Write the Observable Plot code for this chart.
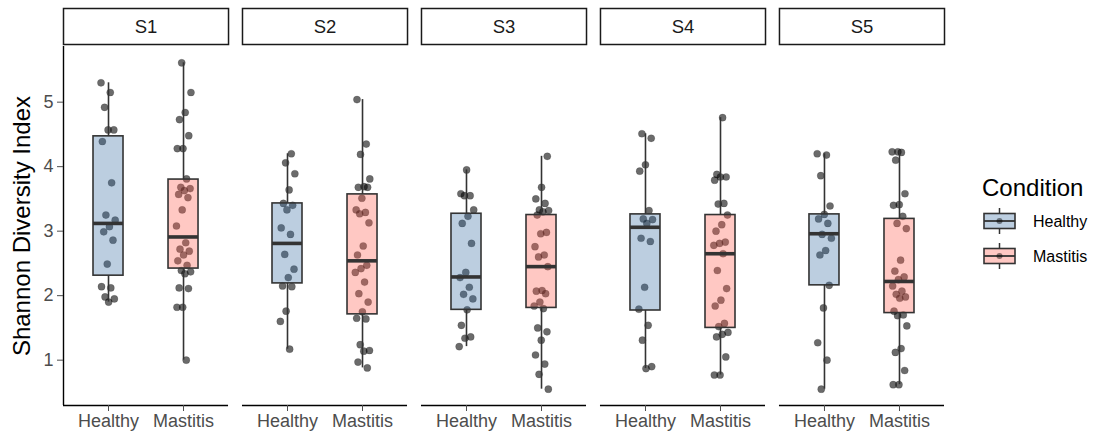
<!DOCTYPE html>
<html>
<head>
<meta charset="utf-8">
<script src="https://cdn.jsdelivr.net/npm/d3@7"></script>
<script src="https://cdn.jsdelivr.net/npm/@observablehq/plot@0.6"></script>
<style>
  body { margin: 0; background: white; }
  #wrap { position: relative; width: 1099px; height: 438px; font-family: "Liberation Sans", Arial, sans-serif; }
  #legend { position: absolute; left: 970px; top: 165px; }
</style>
</head>
<body>
<div id="wrap"><div id="chart"></div><div id="legend"></div></div>
<script>
// ---- data ----
const sites = ["S1", "S2", "S3", "S4", "S5"];
const conditions = ["Healthy", "Mastitis"];
const fillColors = ["#4073a6", "#ff6254"];
const yLabel = "Shannon Diversity Index";
const legendTitle = "Condition";
const yTicks = [1, 2, 3, 4, 5];

const S1_Healthy = [5.30, 5.15, 4.92, 4.57, 4.57, 4.39, 3.75, 3.25, 3.17, 3.07, 2.99, 2.86, 2.49, 2.14, 2.12, 1.98, 1.95, 1.90];
const S1_Mastitis = [5.61, 5.15, 4.84, 4.73, 4.48, 4.28, 4.28, 3.81, 3.68, 3.66, 3.63, 3.57, 3.52, 3.33, 3.08, 2.82, 2.72, 2.69, 2.63, 2.54, 2.47, 2.39, 2.37, 2.34, 2.12, 2.11, 1.82, 1.82, 1.00];
const S2_Healthy = [4.20, 4.06, 3.89, 3.64, 3.43, 3.40, 3.33, 3.05, 2.95, 2.64, 2.41, 2.28, 2.15, 2.14, 1.76, 1.60, 1.17];
const S2_Mastitis = [5.04, 4.35, 4.19, 3.81, 3.69, 3.68, 3.68, 3.51, 3.33, 3.29, 3.27, 3.13, 2.77, 2.63, 2.47, 2.42, 2.36, 2.21, 2.03, 1.90, 1.75, 1.65, 1.64, 1.24, 1.15, 1.14, 0.97, 0.88];
const S3_Healthy = [3.95, 3.58, 3.55, 3.55, 3.33, 3.23, 3.12, 2.81, 2.36, 2.28, 2.13, 2.02, 1.95, 1.78, 1.54, 1.36, 1.34, 1.21];
const S3_Mastitis = [4.16, 3.68, 3.50, 3.43, 3.33, 3.32, 3.30, 3.25, 2.98, 2.96, 2.76, 2.63, 2.60, 2.45, 2.08, 2.07, 2.03, 1.90, 1.84, 1.80, 1.50, 1.44, 1.31, 1.08, 0.94, 0.78, 0.55];
const S4_Healthy = [4.51, 4.44, 4.03, 3.93, 3.32, 3.19, 3.18, 3.12, 2.89, 2.84, 2.13, 1.79, 1.54, 1.31, 0.90, 0.87];
const S4_Mastitis = [4.76, 3.88, 3.84, 3.84, 3.79, 3.43, 3.42, 3.25, 3.10, 3.00, 2.83, 2.81, 2.78, 2.65, 2.39, 2.11, 1.93, 1.84, 1.57, 1.52, 1.43, 1.40, 1.36, 1.05, 0.77, 0.77];
const S5_Healthy = [4.20, 4.18, 3.86, 3.39, 3.26, 3.19, 3.12, 2.95, 2.89, 2.70, 2.63, 2.16, 1.81, 1.27, 1.00, 0.55];
const S5_Mastitis = [4.23, 4.23, 4.22, 4.10, 3.58, 3.41, 3.40, 3.23, 3.12, 3.04, 2.55, 2.38, 2.29, 2.25, 2.15, 2.07, 2.02, 1.98, 1.96, 1.76, 1.70, 1.69, 1.53, 1.18, 1.12, 0.84, 0.62, 0.62];

// box statistics, order: S1 Healthy, S1 Mastitis, S2 Healthy, ...
const boxQ1     = [2.31, 2.42, 2.19, 1.71, 1.78, 1.81, 1.77, 1.50, 2.16, 1.73];
const boxMedian = [3.12, 2.91, 2.81, 2.54, 2.29, 2.45, 3.06, 2.65, 2.96, 2.22];
const boxQ3     = [4.47, 3.80, 3.43, 3.57, 3.27, 3.25, 3.26, 3.25, 3.26, 3.19];

// ---- build tables ----
const groupValues = [S1_Healthy, S1_Mastitis, S2_Healthy, S2_Mastitis, S3_Healthy, S3_Mastitis, S4_Healthy, S4_Mastitis, S5_Healthy, S5_Mastitis];
const points = [];
const boxes = [];
sites.forEach((s, si) => conditions.forEach((c, ci) => {
  const k = si * 2 + ci;
  const vals = groupValues[k];
  vals.forEach((v, j) => {
    // deterministic jitter (visual spread only)
    const jit = (((j * 0.6180339887 + k * 0.377) % 1) - 0.5) * 0.2;
    points.push({site: s, cond: c, xj: ci + 1 + jit, y: v});
  });
  boxes.push({site: s, cond: c, pos: ci + 1, q1: boxQ1[k], med: boxMedian[k], q3: boxQ3[k], lo: d3.min(vals), hi: d3.max(vals)});
}));

const allVals = groupValues.flat();
const yMin = d3.min(allVals), yMax = d3.max(allVals);
const yPad = (yMax - yMin) * 0.05;
const yDomain = [yMin - yPad, yMax + yPad];
const xDomain = [0.4, 2.6];

const H = 438, mTop = 46, mBottom = 33;
const panelH = H - mTop - mBottom;

const chart = Plot.plot({
  width: 1099,
  height: H,
  marginLeft: 63,
  marginRight: 155,
  marginTop: mTop,
  marginBottom: mBottom,
  style: {fontFamily: '"Liberation Sans", Arial, sans-serif', background: "white", overflow: "visible"},
  fx: {domain: sites, paddingInner: 0.078, paddingOuter: 0, round: false, axis: null, label: null},
  x: {domain: xDomain, label: null},
  y: {domain: yDomain, label: null},
  color: {domain: conditions, range: fillColors},
  marks: [
    // strips
    Plot.frame({fill: "white", stroke: "#1a1a1a", strokeWidth: 1.5, insetTop: -38, insetBottom: panelH + 2}),
    Plot.text(sites, {fx: d => d, text: d => d, frameAnchor: "top", lineAnchor: "middle", dy: -19, fontSize: 18.5, fill: "#1a1a1a"}),
    // jittered points
    Plot.dot(points, {fx: "site", x: "xj", y: "y", r: 3.6, fill: "black", fillOpacity: 0.58, stroke: "black", strokeOpacity: 0.25, strokeWidth: 0.6}),
    // whiskers
    Plot.ruleX(boxes, {fx: "site", x: "pos", y1: "lo", y2: "q1", stroke: "#333", strokeWidth: 1.6}),
    Plot.ruleX(boxes, {fx: "site", x: "pos", y1: "q3", y2: "hi", stroke: "#333", strokeWidth: 1.6}),
    // boxes
    Plot.rect(boxes, {fx: "site", x1: d => d.pos - 0.2, x2: d => d.pos + 0.2, y1: "q1", y2: "q3", fill: "cond", fillOpacity: 0.35, stroke: "#333", strokeWidth: 1.6}),
    // medians
    Plot.ruleY(boxes, {fx: "site", x1: d => d.pos - 0.2, x2: d => d.pos + 0.2, y: "med", stroke: "#333", strokeWidth: 3.6}),
    // axis lines
    Plot.ruleY([yDomain[0]], {y: d => d, stroke: "black", strokeWidth: 1.4}),
    Plot.ruleX([sites[0]], {fx: d => d, x: () => xDomain[0], stroke: "black", strokeWidth: 1.4}),
    // axes
    Plot.axisY({ticks: yTicks, tickFormat: d => String(d), tickSize: 6, tickPadding: 4, fontSize: 18, color: "#4d4d4d", label: null}),
    Plot.axisX({ticks: [1, 2], tickFormat: d => conditions[d - 1], tickSize: 6, tickPadding: 3, fontSize: 18, color: "#4d4d4d", label: null}),
    // y title
    Plot.text([sites[0]], {fx: d => d, text: () => yLabel, frameAnchor: "left", textAnchor: "middle", lineAnchor: "middle", rotate: -90, dx: -41, fontSize: 24, fill: "black"})
  ]
});
document.getElementById("chart").appendChild(chart);

// ---- legend ----
const ns = "http://www.w3.org/2000/svg";
const lg = document.createElementNS(ns, "svg");
lg.setAttribute("width", 129);
lg.setAttribute("height", 110);
lg.style.fontFamily = '"Liberation Sans", Arial, sans-serif';
function el(tag, attrs, text) {
  const e = document.createElementNS(ns, tag);
  for (const k in attrs) e.setAttribute(k, attrs[k]);
  if (text != null) e.textContent = text;
  lg.appendChild(e);
  return e;
}
el("text", {x: 12, y: 31, "font-size": 24, fill: "black"}, legendTitle);
conditions.forEach((c, i) => {
  const cy = 56 + i * 35;
  const x0 = 14, w = 31, h = 15, cx = x0 + w / 2;
  el("line", {x1: cx, x2: cx, y1: cy - 13, y2: cy + 13, stroke: "#333", "stroke-width": 1.5});
  el("rect", {x: x0, y: cy - h / 2, width: w, height: h, fill: "white", stroke: "none"});
  el("rect", {x: x0, y: cy - h / 2, width: w, height: h, fill: fillColors[i], "fill-opacity": 0.35, stroke: "#333", "stroke-width": 1.6});
  el("line", {x1: x0, x2: x0 + w, y1: cy, y2: cy, stroke: "#333", "stroke-width": 1.8});
  el("circle", {cx: cx, cy: cy, r: 3, fill: "black", "fill-opacity": 0.45});
  el("text", {x: 63, y: cy, "font-size": 16, fill: "black", "dominant-baseline": "central"}, c);
});
document.getElementById("legend").appendChild(lg);
</script>
</body>
</html>
